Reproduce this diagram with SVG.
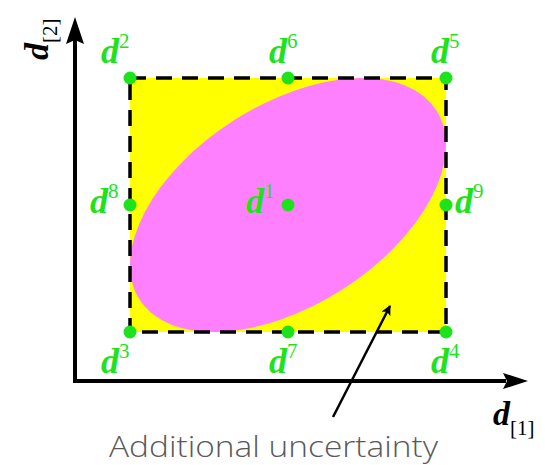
<svg xmlns="http://www.w3.org/2000/svg" width="545" height="465" viewBox="0 0 545 465">
<style>
.g{fill:#1ce31c;font-family:"Liberation Serif",serif;font-style:italic;font-weight:bold;font-size:36px}
.s{font-style:normal;font-weight:normal;font-size:21px}
.k{fill:#000;font-family:"Liberation Serif",serif;font-style:italic;font-weight:bold;font-size:34px}
.ks{font-style:normal;font-weight:normal;font-size:21px}
.dot{fill:#1ce31c}
.ax{stroke:#000;stroke-width:4;fill:none}
</style>
<defs>
<marker id="ah" markerWidth="10" markerHeight="10" refX="9" refY="5" orient="auto" markerUnits="userSpaceOnUse" viewBox="0 0 10 10">
<path d="M0,0 L10,5 L0,10 L2.5,5 Z" fill="#000"/>
</marker>
</defs>
<g id="box">
<rect x="130" y="78" width="316" height="254" fill="#ffff00"/>
<ellipse cx="288" cy="205" rx="176" ry="100.5" transform="rotate(-32.5 288 205)" fill="#ff80ff"/>
<rect x="130" y="78" width="316" height="254" fill="none" stroke="#000" stroke-width="3.5" stroke-dasharray="16 10"/>
</g>
<g id="axes">
<line class="ax" x1="75" y1="383" x2="75" y2="40"/>
<path d="M75,17 L84,44 L75,40 L66,44 Z" fill="#000"/>
<line class="ax" x1="73" y1="381" x2="506" y2="381"/>
<path d="M528,381 L503,389 L507,381 L503,373 Z" fill="#000"/>
</g>
<g id="axis-labels">
<text class="k" x="493" y="425">d<tspan class="ks" y="435">[1]</tspan></text>
<text class="k" transform="translate(48,60) rotate(-90)" x="0" y="0">d<tspan class="ks" y="9">[2]</tspan></text>
</g>
<g id="points">
<circle class="dot" cx="130" cy="78" r="6.5"/>
<circle class="dot" cx="288" cy="78" r="6.5"/>
<circle class="dot" cx="446" cy="78" r="6.5"/>
<circle class="dot" cx="130" cy="205" r="6.5"/>
<circle class="dot" cx="288" cy="205" r="6.5"/>
<circle class="dot" cx="446" cy="205" r="6.5"/>
<circle class="dot" cx="130" cy="332" r="6.5"/>
<circle class="dot" cx="288" cy="332" r="6.5"/>
<circle class="dot" cx="446" cy="332" r="6.5"/>
</g>
<g id="labels">
<text class="g" x="101" y="63">d<tspan class="s" y="48">2</tspan></text>
<text class="g" x="269" y="63">d<tspan class="s" y="48">6</tspan></text>
<text class="g" x="431" y="63">d<tspan class="s" y="48">5</tspan></text>
<text class="g" x="90" y="213">d<tspan class="s" y="198">8</tspan></text>
<text class="g" x="246" y="213">d<tspan class="s" y="198">1</tspan></text>
<text class="g" x="455" y="213">d<tspan class="s" y="198">9</tspan></text>
<text class="g" x="101" y="373">d<tspan class="s" y="358">3</tspan></text>
<text class="g" x="269" y="373">d<tspan class="s" y="358">7</tspan></text>
<text class="g" x="431" y="373">d<tspan class="s" y="358">4</tspan></text>
</g>
<g id="connectors">
<line x1="333" y1="417" x2="390" y2="306" stroke="#000" stroke-width="2.5" marker-end="url(#ah)"/>
</g>
<g id="annotation">
<text x="109" y="457" font-family="'Open Sans',sans-serif" font-weight="300" font-size="30" fill="#595959" textLength="329" lengthAdjust="spacingAndGlyphs">Additional uncertainty</text>
</g>
</svg>
